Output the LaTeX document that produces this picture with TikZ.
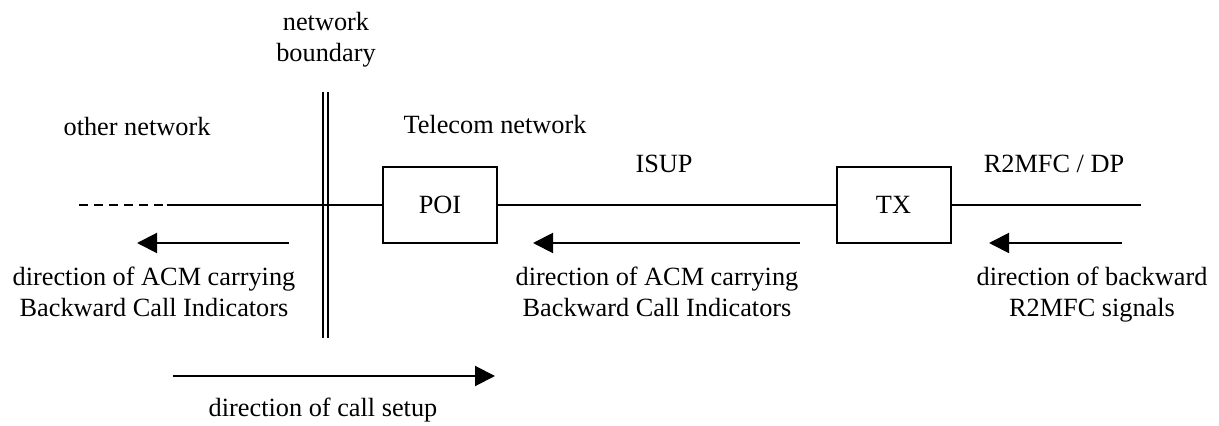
\documentclass[tikz,border=0pt]{standalone}
\usepackage{fontspec}
\setmainfont{Liberation Serif}
\usetikzlibrary{arrows.meta}
\begin{document}
\begin{tikzpicture}[x=0.5pt,y=-0.5pt,
  every node/.style={font=\fontsize{13.15}{15.5}\selectfont, inner sep=0pt},
  box/.style={draw, line width=1pt, minimum width=57pt, minimum height=38pt},
  wire/.style={line width=1pt},
  dashwire/.style={line width=1pt, dash pattern=on 4.5pt off 3pt},
  boundary/.style={line width=0.75pt, double, double distance=1.6pt},
  dir/.style={line width=1pt, -{Triangle[length=10pt,width=10pt]}},
  lbl/.style={align=center, anchor=base}]
\useasboundingbox (0,0) rectangle (1219,426);

% labels above (multi-line nodes: base = last line's baseline)
\node[lbl] (nb) at (326,62) {network\\boundary};
\node[lbl] (other) at (137,136) {other network};
\node[lbl] (tel) at (495,134) {Telecom network};
\node[lbl] (isup) at (664,173) {ISUP};
\node[lbl] (r2) at (1054,173) {R2MFC / DP};

% network boundary
\coordinate (bt) at (325.5,92);
\coordinate (bb) at (325.5,338);
\draw[boundary] (bt) -- (bb);

% boxes
\node[box] (poi) at (440,205) {POI};
\node[box] (tx) at (893.5,205) {TX};

% main line
\coordinate (lend) at (79,205);
\coordinate (dend) at (167,205);
\coordinate (rend) at (1141,205);
\draw[dashwire] (lend) -- (dend);
\draw[wire] (dend) -- (poi.west);
\draw[wire] (poi.east) -- (tx.west);
\draw[wire] (tx.east) -- (rend);

% direction arrows
\coordinate (a1s) at (289,243);
\coordinate (a1e) at (137,243);
\coordinate (a2s) at (800,243);
\coordinate (a2e) at (533,243);
\coordinate (a3s) at (1122,243);
\coordinate (a3e) at (989,243);
\coordinate (cs) at (173,376);
\coordinate (ce) at (495,376);
\draw[dir] (a1s) -- (a1e);
\draw[dir] (a2s) -- (a2e);
\draw[dir] (a3s) -- (a3e);
\draw[dir] (cs) -- (ce);

% labels below
\node[lbl] (l1) at (154,317) {direction of ACM carrying\\Backward Call Indicators};
\node[lbl] (l2) at (657,317) {direction of ACM carrying\\Backward Call Indicators};
\node[lbl] (l3) at (1092,317) {direction of backward\\R2MFC signals};
\node[lbl] (l4) at (323,416) {direction of call setup};
\end{tikzpicture}
\end{document}
